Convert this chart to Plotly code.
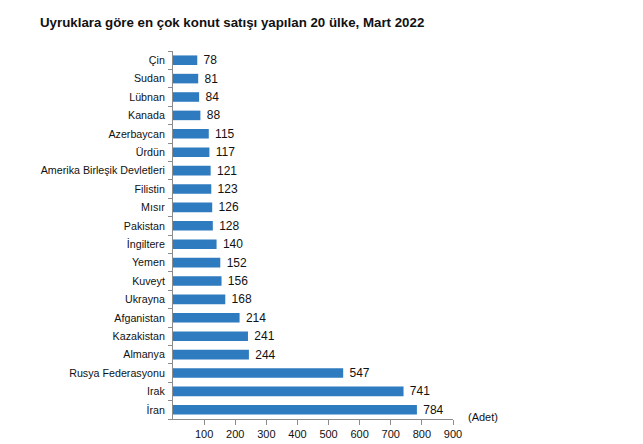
import plotly.graph_objects as go

# Countries (top to bottom as shown) and number of house sales
countries = ["Çin", "Sudan", "Lübnan", "Kanada", "Azerbaycan", "Ürdün",
             "Amerika Birleşik Devletleri", "Filistin", "Mısır", "Pakistan",
             "İngiltere", "Yemen", "Kuveyt", "Ukrayna", "Afganistan",
             "Kazakistan", "Almanya", "Rusya Federasyonu", "Irak", "İran"]
sales = [78, 81, 84, 88, 115, 117, 121, 123, 126, 128,
         140, 152, 156, 168, 214, 241, 244, 547, 741, 784]
x_ticks = [100, 200, 300, 400, 500, 600, 700, 800, 900]

font_name = "Liberation Sans, Arial, sans-serif"

# page body has an 8px default margin, so positions are shifted by 8
fig = go.Figure()

fig.add_trace(go.Bar(
    y=countries, x=sales, orientation='h',
    marker=dict(color='#2E7BBF', line=dict(width=0)),
    width=0.52,
    text=sales, texttemplate=" %{x}", textposition='outside', cliponaxis=False,
    constraintext='none',
    textfont=dict(family=font_name, size=12, color='#111111'),
))

fig.update_layout(
    width=643, height=444,
    margin=dict(l=165, r=198, t=43, b=28),
    paper_bgcolor='white', plot_bgcolor='white',
    showlegend=False,
    font=dict(family=font_name, size=11, color='#111111'),
    title=dict(text="<b>Uyruklara göre en çok konut satışı yapılan 20 ülke, Mart 2022</b>",
               x=32 / 643, xanchor='left', y=1 - 14 / 444, yanchor='middle',
               font=dict(family=font_name, size=13.3, color='#111111')),
    xaxis=dict(range=[0, 900], tickvals=x_ticks, showgrid=False, zeroline=False,
               showline=True, linecolor='#8c8c8c', linewidth=1,
               ticks='outside', ticklen=5, tickcolor='#8c8c8c',
               tickfont=dict(size=11, color='#111111')),
    yaxis=dict(categoryorder='array', categoryarray=countries[::-1],
               showgrid=False, zeroline=False,
               showline=True, linecolor='#8c8c8c', linewidth=1,
               ticks='outside', ticklen=4, tickcolor='#8c8c8c',
               tickson='boundaries', ticklabelstandoff=5,
               tickfont=dict(size=10.7, color='#111111')),
)

fig.add_annotation(text="(Adet)", xref='paper', yref='paper',
                   x=(483 - 173) / 280, y=0, xanchor='center', yanchor='middle',
                   yshift=2, showarrow=False, font=dict(size=11, color='#111111'))

fig.write_html("out.html")
